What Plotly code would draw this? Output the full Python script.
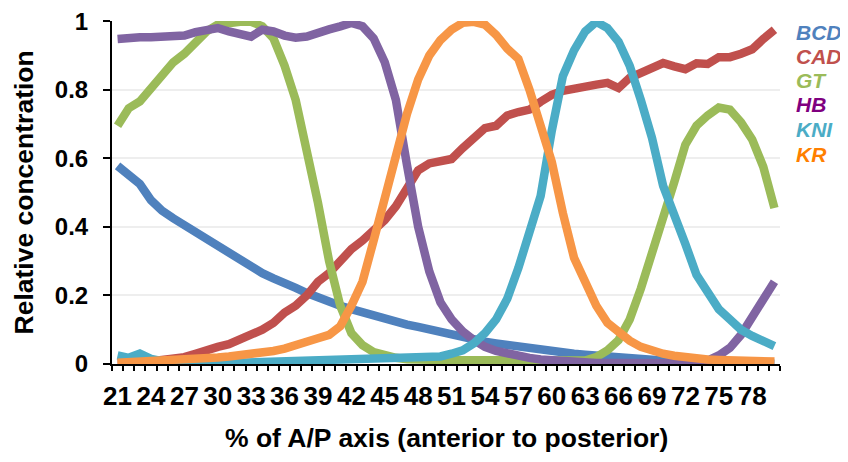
import plotly.graph_objects as go

positions = list(range(21, 81))
tick_labels = [str(v) for v in range(21, 79, 3)]

bcd = [0.578, 0.552, 0.525, 0.478, 0.447, 0.425, 0.405, 0.385, 0.365, 0.345,
       0.322, 0.298, 0.28, 0.265, 0.25, 0.238, 0.222, 0.207, 0.193, 0.18,
       0.17, 0.16, 0.15, 0.14, 0.132, 0.122, 0.115, 0.108, 0.1, 0.093,
       0.085, 0.078, 0.07, 0.065, 0.06, 0.055, 0.05, 0.046, 0.042, 0.037,
       0.034, 0.03, 0.027, 0.024, 0.021, 0.019, 0.016, 0.013, 0.01, 0.008,
       0.006, 0.005, 0.004, 0.003, 0.003, 0.002, 0.002, 0.002, 0.001, 0.001]
cad = [0.005, 0.005, 0.006, 0.008, 0.012, 0.015, 0.02, 0.03, 0.042, 0.05,
       0.058, 0.07, 0.085, 0.1, 0.12, 0.15, 0.17, 0.2, 0.24, 0.265,
       0.3, 0.335, 0.36, 0.39, 0.42, 0.46, 0.51, 0.565, 0.585, 0.592,
       0.598, 0.63, 0.66, 0.688, 0.695, 0.725, 0.735, 0.742, 0.765, 0.785,
       0.797, 0.805, 0.81, 0.815, 0.82, 0.805, 0.835, 0.85, 0.862, 0.878,
       0.868, 0.86, 0.877, 0.875, 0.895, 0.895, 0.905, 0.918, 0.948, 0.975]
gt = [0.695, 0.746, 0.766, 0.805, 0.845, 0.88, 0.905, 0.935, 0.97, 0.99,
      0.996, 0.998, 0.998, 0.985, 0.95, 0.87, 0.77, 0.63, 0.47, 0.3,
      0.17, 0.09, 0.055, 0.035, 0.024, 0.018, 0.014, 0.012, 0.011, 0.011,
      0.011, 0.011, 0.011, 0.011, 0.01, 0.01, 0.009, 0.008, 0.007, 0.006,
      0.005, 0.005, 0.01, 0.02, 0.04, 0.07, 0.13, 0.22, 0.32, 0.43,
      0.53, 0.64, 0.695, 0.725, 0.748, 0.742, 0.705, 0.655, 0.575, 0.455]
hb = [0.948, 0.952, 0.953, 0.953, 0.955, 0.956, 0.958, 0.968, 0.975, 0.98,
      0.97, 0.965, 0.955, 0.975, 0.97, 0.958, 0.952, 0.955, 0.968, 0.976,
      0.985, 0.995, 0.985, 0.95, 0.88, 0.77, 0.58, 0.4, 0.27, 0.18,
      0.13, 0.095, 0.07, 0.05, 0.038, 0.03, 0.022, 0.018, 0.013, 0.01,
      0.007, 0.005, 0.004, 0.003, 0.003, 0.002, 0.002, 0.002, 0.002, 0.002,
      0.002, 0.002, 0.003, 0.01, 0.025, 0.047, 0.085, 0.135, 0.19, 0.24]
kni = [0.025, 0.018, 0.03, 0.015, 0.008, 0.005, 0.003, 0.002, 0.002, 0.002,
       0.003, 0.003, 0.004, 0.004, 0.005, 0.006, 0.007, 0.008, 0.009, 0.01,
       0.011, 0.012, 0.012, 0.012, 0.012, 0.012, 0.013, 0.015, 0.018, 0.022,
       0.03, 0.04, 0.06, 0.09, 0.13, 0.19, 0.28, 0.38, 0.49, 0.68,
       0.84, 0.915, 0.97, 0.998, 0.98, 0.94, 0.87, 0.77, 0.66, 0.52,
       0.44, 0.35, 0.26, 0.21, 0.16, 0.13, 0.1, 0.082, 0.068, 0.052]
kr = [0.004, 0.005, 0.006, 0.007, 0.009, 0.011, 0.013, 0.015, 0.017, 0.019,
      0.022, 0.025, 0.028, 0.032, 0.038, 0.045, 0.053, 0.065, 0.075, 0.085,
      0.11, 0.17, 0.24, 0.36, 0.49, 0.62, 0.73, 0.83, 0.9, 0.945,
      0.975, 0.995, 0.998, 0.99, 0.96, 0.92, 0.89, 0.8, 0.7, 0.59,
      0.44, 0.31, 0.24, 0.17, 0.12, 0.093, 0.068, 0.05, 0.038, 0.03,
      0.024, 0.019, 0.016, 0.013, 0.012, 0.01, 0.009, 0.008, 0.007, 0.007]

series_names = ["BCD", "CAD", "GT", "HB", "KNI", "KR"]
series_values = [bcd, cad, gt, hb, kni, kr]
line_colors = ["#4F81BD", "#C0504D", "#9BBB59", "#8064A2", "#4BACC6", "#F79646"]
label_colors = ["#4F81BD", "#C0504D", "#9BBB59", "#7F007F", "#4BACC6", "#FF7F00"]

FONT = "Liberation Sans, Arial, sans-serif"

fig = go.Figure()
for name, vals, col in zip(series_names, series_values, line_colors):
    fig.add_trace(go.Scatter(x=positions, y=vals, mode="lines", name=name,
                             line=dict(color=col, width=8.5), showlegend=False))

# legend as coloured italic labels (positioned in data units of y)
legend_y = [0.967, 0.896, 0.826, 0.757, 0.683, 0.611]
for name, col, ly in zip(series_names, label_colors, legend_y):
    fig.add_annotation(text=name, xref="paper", yref="y",
                       x=1.021, y=ly,
                       xanchor="left", yanchor="middle", showarrow=False,
                       font=dict(family=FONT, size=21, color=col,
                                 weight="bold", style="italic"))

fig.add_annotation(text="% of A/P axis (anterior to posterior)", xref="paper",
                   yref="paper", x=0.5, y=0, yshift=-74, xanchor="center",
                   yanchor="middle", showarrow=False,
                   font=dict(family=FONT, size=26.5, color="black", weight="bold"))
fig.add_annotation(text="Relative concentration", xref="paper", yref="paper",
                   x=0, y=0.5, xshift=-89, xanchor="center", yanchor="middle",
                   textangle=-90, showarrow=False,
                   font=dict(family=FONT, size=26.5, color="black", weight="bold"))

# page body adds an 8px offset; figure is sized to compensate
fig.update_layout(
    width=840, height=454,
    margin=dict(l=104, r=68, t=13, b=98),
    paper_bgcolor="white", plot_bgcolor="white",
    font=dict(family=FONT, size=26, color="black", weight="bold"),
)
fig.update_xaxes(
    range=[20.5, 80.5], tickmode="array",
    tickvals=[int(t) for t in tick_labels], ticktext=tick_labels,
    ticks="", showgrid=False, zeroline=False, automargin=False,
    showline=True, linecolor="black", linewidth=2,
    ticklabelstandoff=8, ticklabeloverflow="allow",
    tickfont=dict(family=FONT, size=26, color="black", weight="bold"),
    minor=dict(ticks="outside", ticklen=5, tickwidth=2, tickcolor="black",
               tick0=20.5, dtick=1, showgrid=False),
)
fig.update_yaxes(
    range=[0, 1.0005], tickmode="array", tickvals=[0, 0.2, 0.4, 0.6, 0.8, 1],
    ticktext=["0", "0.2", "0.4", "0.6", "0.8", "1"],
    ticks="outside", ticklen=7, tickwidth=2, tickcolor="black",
    showgrid=True, gridcolor="#EEEEEE", gridwidth=2, zeroline=False,
    showline=True, linecolor="black", linewidth=2, automargin=False,
    ticklabelstandoff=10, ticklabeloverflow="allow",
    tickfont=dict(family=FONT, size=24, color="black", weight="bold"),
)

fig.write_html("out.html")
